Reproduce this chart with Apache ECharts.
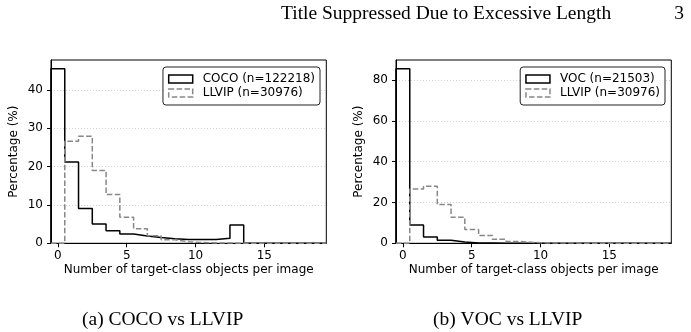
<!DOCTYPE html>
<html>
<head>
<meta charset="utf-8">
<script src="https://cdn.jsdelivr.net/npm/echarts@6/dist/echarts.min.js"></script>
<style>
html,body{margin:0;padding:0;background:#fff;}
#chart{width:691px;height:332px;}
</style>
</head>
<body>
<div id="chart"></div>
<script>
// ---- data (percent of images per object count, bins 0..19) ----
const binCenters = [0,1,2,3,4,5,6,7,8,9,10,11,12,13,14,15,16,17,18,19];
const cocoPct  = [45.5,21.2,9.1,5.0,3.3,2.4,1.9,1.5,1.2,1.0,1.0,1.0,1.3,4.8,0,0,0,0,0,0];
const llvipPct = [0,26.6,27.9,19.0,12.7,6.8,3.8,2.0,0.9,0.4,0.2,0.1,0.1,0,0,0,0,0,0,0];
const vocPct   = [85.5,9.0,3.1,1.5,0.6,0.2,0.1,0,0,0,0,0,0,0,0,0,0,0,0,0];
const xTicks = [0,5,10,15];
const yTicksA = [0,10,20,30,40];
const yTicksB = [0,20,40,60,80];
const legendA = ['COCO (n=122218)','LLVIP (n=30976)'];
const legendB = ['VOC (n=21503)','LLVIP (n=30976)'];
const headerText = 'Title Suppressed Due to Excessive Length';
const pageNum = '3';
const captionA = '(a) COCO vs LLVIP';
const captionB = '(b) VOC vs LLVIP';
const xName = 'Number of target-class objects per image';
const yName = 'Percentage (%)';

// build step-histogram outline from bin centers (width 1)
function stepPoints(vals){
  const pts = [[binCenters[0]-0.5, 0]];
  vals.forEach((v,i)=>{ pts.push([binCenters[i]-0.5, v]); pts.push([binCenters[i]+0.5, v]); });
  pts.push([binCenters[binCenters.length-1]+0.5, 0]);
  return pts;
}

const FONT = 'DejaVu Sans';
const gridTop = 60, gridH = 183.3, gridW = 275.3;
const xMin = binCenters[0]-0.5, xMax = binCenters[binCenters.length-1]+0.5;

function xAxis(idx){
  return {
    type:'value', gridIndex:idx, min:xMin, max:xMax,
    name:xName, nameLocation:'middle', nameGap:21, nameMoveOverlap:false,
    nameTextStyle:{fontFamily:FONT,fontSize:12,color:'#000'},
    axisLine:{show:true,onZero:false,lineStyle:{color:'#000',width:1}},
    axisTick:{show:true,length:4,customValues:xTicks,lineStyle:{color:'#000',width:1}},
    axisLabel:{customValues:xTicks,fontFamily:FONT,fontSize:12,color:'#000',margin:7},
    splitLine:{show:false}
  };
}
function yAxis(idx, ticks, maxV){
  return {
    type:'value', gridIndex:idx, min:0, max:maxV,
    name:yName, nameLocation:'middle', nameGap:31, nameRotate:90, nameMoveOverlap:false,
    nameTextStyle:{fontFamily:FONT,fontSize:12,color:'#000'},
    axisLine:{show:true,onZero:false,lineStyle:{color:'#000',width:1}},
    axisTick:{show:true,length:4,customValues:ticks,lineStyle:{color:'#000',width:1}},
    axisLabel:{customValues:ticks,fontFamily:FONT,fontSize:12,color:'#000',margin:8},
    splitLine:{show:true,lineStyle:{color:'#c8c8c8',width:0.8,type:[1,2]}}
  };
}
function legend(names, rightPx){
  return {
    orient:'vertical', right:rightPx, top:67,
    padding:[5,5,5,5], itemGap:0, itemWidth:24, itemHeight:8,
    borderColor:'#222', borderWidth:1, borderRadius:3,
    backgroundColor:'rgba(255,255,255,0.85)',
    textStyle:{fontFamily:FONT,fontSize:12,color:'#000',lineHeight:14,padding:[0,0,0,5]},
    data:[
      {name:names[0], icon:'rect', itemStyle:{color:'#fff',borderColor:'#000',borderWidth:1.5,borderType:'solid'}},
      {name:names[1], icon:'rect', itemStyle:{color:'#fff',borderColor:'#888',borderWidth:1.5,borderType:[5.5,2.4]}}
    ]
  };
}
function series(name, vals, idx, color, dashed){
  return {
    type:'line', name:name, xAxisIndex:idx, yAxisIndex:idx,
    data:stepPoints(vals), showSymbol:false, symbol:'none', clip:false,
    lineStyle:{color:color,width:1.5,type:dashed?[5.5,2.4]:'solid'},
    itemStyle:{color:color}, animation:false
  };
}

const maxA = 1.05*Math.max(...cocoPct, ...llvipPct);
const maxB = 1.05*Math.max(...vocPct, ...llvipPct);

const chart = echarts.init(document.getElementById('chart'), null, {renderer:'canvas'});
chart.setOption({
  animation:false,
  backgroundColor:'#fff',
  grid:[
    {left:51, top:gridTop, width:gridW, height:gridH, show:true, borderColor:'#000', borderWidth:1, backgroundColor:'transparent'},
    {left:396, top:gridTop, width:gridW, height:gridH, show:true, borderColor:'#000', borderWidth:1, backgroundColor:'transparent'}
  ],
  xAxis:[xAxis(0), xAxis(1)],
  yAxis:[yAxis(0, yTicksA, maxA), yAxis(1, yTicksB, maxB)],
  legend:[legend(legendA, 691-320), legend(legendB, 691-665)],
  series:[
    series(legendA[0], cocoPct, 0, '#000', false),
    series(legendA[1], llvipPct, 0, '#888', true),
    series(legendB[0], vocPct, 1, '#000', false),
    series(legendB[1], llvipPct, 1, '#888', true)
  ],
  graphic:[
    {type:'text', left:281, top:4, style:{text:headerText, font:'19.5px "Liberation Serif"', fill:'#000'}},
    {type:'text', right:7, top:4, style:{text:pageNum, font:'19.5px "Liberation Serif"', fill:'#000'}},
    {type:'text', left:82, top:310, style:{text:captionA, font:'19.5px "Liberation Serif"', fill:'#000'}},
    {type:'text', left:433, top:310, style:{text:captionB, font:'19.5px "Liberation Serif"', fill:'#000'}}
  ]
});
</script>
</body>
</html>
